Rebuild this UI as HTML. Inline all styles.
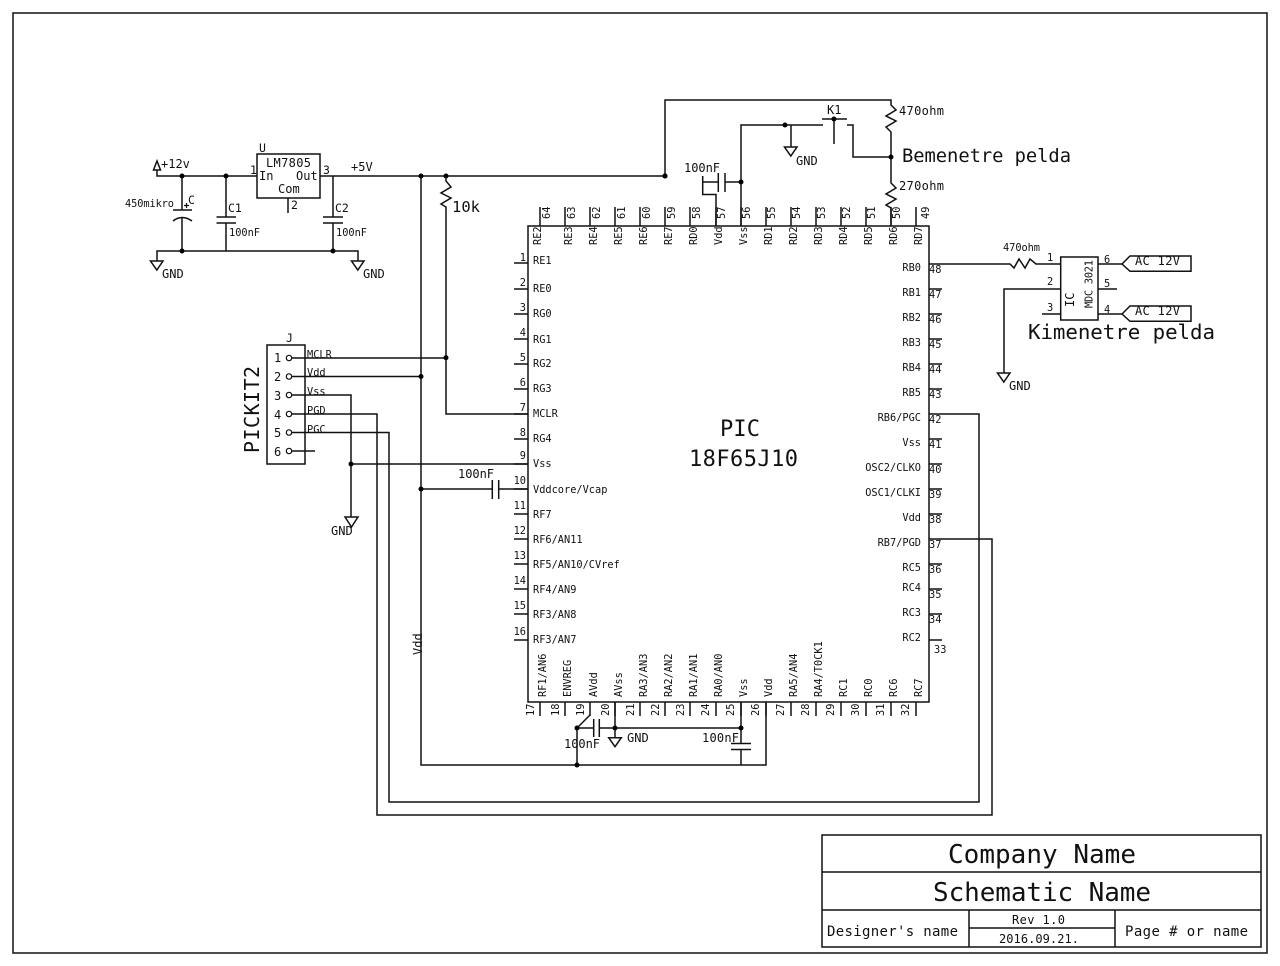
<!DOCTYPE html>
<html><head><meta charset="utf-8"><title>Schematic</title>
<style>
html,body{margin:0;padding:0;background:#fff}
svg{display:block}
text{font-family:"DejaVu Sans Mono","Liberation Mono",monospace;fill:#111;stroke:none;font-size:10.3px}
.a{font-size:12px}
.b{font-size:11.5px}
.end{text-anchor:end}
path,rect,polygon,circle{fill:none;stroke:#111;stroke-width:1.5}
.t{stroke-width:1.2}
.d{fill:#000;stroke:none}
</style></head><body>
<svg xmlns="http://www.w3.org/2000/svg" width="1280" height="966" viewBox="0 0 1280 966">
<rect x="13" y="13" width="1254" height="940"/>
<!-- title block -->
<path d="M822 835H1261V947H822ZM822 872H1261M822 910H1261M969 910V947M1115 910V947M969 928H1115"/>
<text x="948" y="863" style="font-size:26px" textLength="188">Company Name</text>
<text x="933" y="901" style="font-size:26px" textLength="218">Schematic Name</text>
<text x="827" y="936" style="font-size:14px" textLength="131">Designer's name</text>
<text x="1125" y="936" style="font-size:14px" textLength="123">Page # or name</text>
<text x="1012" y="924" class="a" textLength="53">Rev 1.0</text>
<text x="999" y="943" class="a" textLength="80">2016.09.21.</text>
<!-- IC -->
<rect x="528" y="226" width="401" height="476"/>
<path d="M540 207V226M565 207V226M590 207V226M615 207V226M640 207V226M665 207V226M690 207V226M716 207V226M741 207V226M766 207V226M791 207V226M816 207V226M841 207V226M866 207V226M891 207V226M916 207V226"/>
<path d="M514 263H528M514 289H528M514 314H528M514 339H528M514 364H528M514 389H528M514 414H528M514 439H528M514 464H528M514 489H528M514 514H528M514 539H528M514 564H528M514 589H528M514 614H528M514 640H528"/>
<path d="M929 264H942M929 289H942M929 314H942M929 339H942M929 364H942M929 389H942M929 414H942M929 439H942M929 464H942M929 489H942M929 514H942M929 539H942M929 564H942M929 589H942M929 614H942M929 640H942"/>
<path d="M540 702V716M565 702V716M590 702V716M615 702V716M640 702V716M665 702V716M690 702V716M716 702V716M741 702V716M766 702V716M791 702V716M816 702V716M841 702V716M866 702V716M891 702V716M916 702V716"/>
<text x="720" y="436" style="font-size:22px" textLength="40">PIC</text>
<text x="689" y="466" style="font-size:22px" textLength="109">18F65J10</text>
<!-- top labels -->
<text transform="translate(541 245) rotate(-90)">RE2</text>
<text transform="translate(572 245) rotate(-90)">RE3</text>
<text transform="translate(597 245) rotate(-90)">RE4</text>
<text transform="translate(622 245) rotate(-90)">RE5</text>
<text transform="translate(647 245) rotate(-90)">RE6</text>
<text transform="translate(672 245) rotate(-90)">RE7</text>
<text transform="translate(697 245) rotate(-90)">RD0</text>
<text transform="translate(722 245) rotate(-90)">Vdd</text>
<text transform="translate(747 245) rotate(-90)">Vss</text>
<text transform="translate(772 245) rotate(-90)">RD1</text>
<text transform="translate(797 245) rotate(-90)">RD2</text>
<text transform="translate(822 245) rotate(-90)">RD3</text>
<text transform="translate(847 245) rotate(-90)">RD4</text>
<text transform="translate(872 245) rotate(-90)">RD5</text>
<text transform="translate(897 245) rotate(-90)">RD6</text>
<text transform="translate(922 245) rotate(-90)">RD7</text>
<!-- top numbers -->
<text transform="translate(550 219) rotate(-90)">64</text>
<text transform="translate(575 219) rotate(-90)">63</text>
<text transform="translate(600 219) rotate(-90)">62</text>
<text transform="translate(625 219) rotate(-90)">61</text>
<text transform="translate(650 219) rotate(-90)">60</text>
<text transform="translate(675 219) rotate(-90)">59</text>
<text transform="translate(700 219) rotate(-90)">58</text>
<text transform="translate(725 219) rotate(-90)">57</text>
<text transform="translate(750 219) rotate(-90)">56</text>
<text transform="translate(775 219) rotate(-90)">55</text>
<text transform="translate(800 219) rotate(-90)">54</text>
<text transform="translate(825 219) rotate(-90)">53</text>
<text transform="translate(850 219) rotate(-90)">52</text>
<text transform="translate(875 219) rotate(-90)">51</text>
<text transform="translate(900 219) rotate(-90)">50</text>
<text transform="translate(929 219) rotate(-90)">49</text>
<!-- left labels -->
<text x="533" y="264">RE1</text>
<text x="533" y="292">RE0</text>
<text x="533" y="317">RG0</text>
<text x="533" y="343">RG1</text>
<text x="533" y="367">RG2</text>
<text x="533" y="392">RG3</text>
<text x="533" y="417">MCLR</text>
<text x="533" y="442">RG4</text>
<text x="533" y="467">Vss</text>
<text x="533" y="493">Vddcore/Vcap</text>
<text x="533" y="518">RF7</text>
<text x="533" y="543">RF6/AN11</text>
<text x="533" y="568">RF5/AN10/CVref</text>
<text x="533" y="593">RF4/AN9</text>
<text x="533" y="618">RF3/AN8</text>
<text x="533" y="643">RF3/AN7</text>
<!-- left numbers -->
<text x="526" y="261" class="end">1</text>
<text x="526" y="286" class="end">2</text>
<text x="526" y="311" class="end">3</text>
<text x="526" y="336" class="end">4</text>
<text x="526" y="361" class="end">5</text>
<text x="526" y="386" class="end">6</text>
<text x="526" y="411" class="end">7</text>
<text x="526" y="436" class="end">8</text>
<text x="526" y="459" class="end">9</text>
<text x="526" y="484" class="end">10</text>
<text x="526" y="509" class="end">11</text>
<text x="526" y="534" class="end">12</text>
<text x="526" y="559" class="end">13</text>
<text x="526" y="584" class="end">14</text>
<text x="526" y="609" class="end">15</text>
<text x="526" y="635" class="end">16</text>
<!-- right labels -->
<text x="921" y="271" class="end">RB0</text>
<text x="921" y="296" class="end">RB1</text>
<text x="921" y="321" class="end">RB2</text>
<text x="921" y="346" class="end">RB3</text>
<text x="921" y="371" class="end">RB4</text>
<text x="921" y="396" class="end">RB5</text>
<text x="921" y="421" class="end">RB6/PGC</text>
<text x="921" y="446" class="end">Vss</text>
<text x="921" y="471" class="end">OSC2/CLKO</text>
<text x="921" y="496" class="end">OSC1/CLKI</text>
<text x="921" y="521" class="end">Vdd</text>
<text x="921" y="546" class="end">RB7/PGD</text>
<text x="921" y="571" class="end">RC5</text>
<text x="921" y="591" class="end">RC4</text>
<text x="921" y="616" class="end">RC3</text>
<text x="921" y="641" class="end">RC2</text>
<!-- right numbers -->
<text x="929" y="273">48</text>
<text x="929" y="298">47</text>
<text x="929" y="323">46</text>
<text x="929" y="348">45</text>
<text x="929" y="373">44</text>
<text x="929" y="398">43</text>
<text x="929" y="423">42</text>
<text x="929" y="448">41</text>
<text x="929" y="473">40</text>
<text x="929" y="498">39</text>
<text x="929" y="523">38</text>
<text x="929" y="548">37</text>
<text x="929" y="573">36</text>
<text x="929" y="598">35</text>
<text x="929" y="623">34</text>
<text x="934" y="653">33</text>
<!-- bottom labels -->
<text transform="translate(546 697) rotate(-90)">RF1/AN6</text>
<text transform="translate(571 697) rotate(-90)">ENVREG</text>
<text transform="translate(597 697) rotate(-90)">AVdd</text>
<text transform="translate(622 697) rotate(-90)">AVss</text>
<text transform="translate(647 697) rotate(-90)">RA3/AN3</text>
<text transform="translate(672 697) rotate(-90)">RA2/AN2</text>
<text transform="translate(697 697) rotate(-90)">RA1/AN1</text>
<text transform="translate(722 697) rotate(-90)">RA0/AN0</text>
<text transform="translate(747 697) rotate(-90)">Vss</text>
<text transform="translate(772 697) rotate(-90)">Vdd</text>
<text transform="translate(797 697) rotate(-90)">RA5/AN4</text>
<text transform="translate(822 697) rotate(-90)">RA4/T0CK1</text>
<text transform="translate(847 697) rotate(-90)">RC1</text>
<text transform="translate(872 697) rotate(-90)">RC0</text>
<text transform="translate(897 697) rotate(-90)">RC6</text>
<text transform="translate(922 697) rotate(-90)">RC7</text>
<!-- bottom numbers -->
<text transform="translate(534 716) rotate(-90)">17</text>
<text transform="translate(559 716) rotate(-90)">18</text>
<text transform="translate(584 716) rotate(-90)">19</text>
<text transform="translate(609 716) rotate(-90)">20</text>
<text transform="translate(634 716) rotate(-90)">21</text>
<text transform="translate(659 716) rotate(-90)">22</text>
<text transform="translate(684 716) rotate(-90)">23</text>
<text transform="translate(709 716) rotate(-90)">24</text>
<text transform="translate(734 716) rotate(-90)">25</text>
<text transform="translate(759 716) rotate(-90)">26</text>
<text transform="translate(784 716) rotate(-90)">27</text>
<text transform="translate(809 716) rotate(-90)">28</text>
<text transform="translate(834 716) rotate(-90)">29</text>
<text transform="translate(859 716) rotate(-90)">30</text>
<text transform="translate(884 716) rotate(-90)">31</text>
<text transform="translate(909 716) rotate(-90)">32</text>
<!-- power section -->
<path d="M157 170V176H257M320 176H665M157 170L153.5 170L157 161L160.5 170Z"/>
<rect x="257" y="154" width="63" height="44"/>
<path d="M288 198V213"/>
<path d="M182 176V210M173 210H192M182 218V251M173 221Q182 214 192 221M157 261V251H358V261"/>
<path class="t" d="M184 205.500H189M186.500 203V208"/>
<path d="M226 176V217M216.500 217H236M216.500 223H236M226 223V251"/>
<path d="M333 176V217M323 217H343M323 223H343M333 223V251"/>
<polygon points="150.500,261 163,261 156.800,270"/>
<polygon points="351.500,261 364,261 357.800,270"/>
<circle class="d" cx="182" cy="176" r="2.500"/><circle class="d" cx="226" cy="176" r="2.500"/><circle class="d" cx="182" cy="251" r="2.500"/><circle class="d" cx="333" cy="251" r="2.500"/><circle class="d" cx="421" cy="176" r="2.500"/><circle class="d" cx="446" cy="176" r="2.500"/><circle class="d" cx="665" cy="176" r="2.500"/>
<text x="161" y="168" class="a">+12v</text>
<text x="125" y="207" textLength="49">450mikro</text>
<text x="188" y="204" class="b">C</text>
<text x="228" y="212" class="b">C1</text>
<text x="335" y="212" class="b">C2</text>
<text x="229" y="236">100nF</text>
<text x="336" y="236">100nF</text>
<text x="266" y="167" class="a" textLength="45">LM7805</text>
<text x="259" y="180" class="a">In</text>
<text x="296" y="180" class="a">Out</text>
<text x="278" y="193" class="a">Com</text>
<text x="250" y="174" class="b">1</text>
<text x="323" y="174" class="b">3</text>
<text x="291" y="209" class="b">2</text>
<text x="259" y="152" class="b">U</text>
<text x="351" y="171" class="a">+5V</text>
<text x="162" y="278" class="a">GND</text>
<text x="363" y="278" class="a">GND</text>
<!-- 10k -->
<path d="M446 176V181L451 187L441 193L451 198L441 204L446 207V414H528M421 176V765H766V702"/>
<text x="452" y="212" style="font-size:15.5px">10k</text>
<text transform="translate(422 655) rotate(-90)" class="a">Vdd</text>
<!-- upper right -->
<path d="M665 176V100H891V105L896 110L886 116L896 121L886 127L891 132V183L896 188L886 194L896 199L886 205L891 208V226"/>
<path d="M702.700 176V194.500H716V226M702.700 182H718.300M718.300 173V192M725 173V192M725 182H741"/>
<path d="M741 226V125H823M791 125V147M822 119H847M834 119V144M847 125H853V157H891"/>
<polygon points="784.500,147 797,147 790.800,156"/>
<circle class="d" cx="665" cy="176" r="2.500"/><circle class="d" cx="741" cy="182" r="2.500"/><circle class="d" cx="785" cy="125" r="2.500"/><circle class="d" cx="834" cy="119" r="2.500"/><circle class="d" cx="891" cy="157" r="2.500"/>
<text x="899" y="115" class="a" textLength="45">470ohm</text>
<text x="899" y="190" class="a" textLength="45">270ohm</text>
<text x="684" y="172" class="a" textLength="36">100nF</text>
<text x="796" y="165" class="a">GND</text>
<text x="827" y="114" class="a">K1</text>
<text x="902" y="162" style="font-size:18.8px" textLength="169">Bemenetre pelda</text>
<!-- right opto -->
<path d="M942 264H1010L1014 268L1019 259L1025 268L1030 259L1036 264H1060.700"/>
<rect x="1060.700" y="257" width="37.300" height="63"/>
<path d="M1060.700 289H1004V373M1042 314H1060.700M1098 264H1122M1098 289H1117M1098 314H1122"/>
<polygon points="997.500,373 1010,373 1003.800,382"/>
<polygon points="1122,264 1130,256 1191,256 1191,271.300 1130,271.300"/>
<polygon points="1122,314 1130,306 1191,306 1191,321.300 1130,321.300"/>
<text x="1003" y="251" textLength="37">470ohm</text>
<text x="1047" y="261">1</text><text x="1047" y="285">2</text><text x="1047" y="311">3</text>
<text x="1104" y="263">6</text><text x="1104" y="287">5</text><text x="1104" y="313">4</text>
<text transform="translate(1074 307) rotate(-90)" class="a">IC</text>
<text transform="translate(1092.500 308) rotate(-90)" textLength="48">MDC 3021</text>
<text x="1135" y="265" class="a" textLength="45">AC 12V</text>
<text x="1135" y="315" class="a" textLength="45">AC 12V</text>
<text x="1028" y="339" style="font-size:20.8px" textLength="187">Kimenetre pelda</text>
<text x="1009" y="390" class="a">GND</text>
<!-- pickit -->
<rect x="267" y="345" width="38" height="119"/>
<circle cx="289" cy="358" r="2.700" class="t"/><circle cx="289" cy="376.500" r="2.700" class="t"/><circle cx="289" cy="395" r="2.700" class="t"/><circle cx="289" cy="414" r="2.700" class="t"/><circle cx="289" cy="432.500" r="2.700" class="t"/><circle cx="289" cy="451" r="2.700" class="t"/>
<path d="M292 358H446M292 376.500H421M292 395H351V517M292 414H377V815H992V539H942M292 432.500H389V802H979V414H942M292 451H315M351 464H528"/>
<path d="M421 489H492.300M492.300 480V499M498.700 480V499M498.700 489H528"/>
<polygon points="345,517 358,517 351.500,527"/>
<circle class="d" cx="446" cy="357.700" r="2.500"/><circle class="d" cx="421" cy="376.500" r="2.500"/><circle class="d" cx="351" cy="464" r="2.500"/><circle class="d" cx="421" cy="489" r="2.500"/>
<text x="286" y="342" class="b">J</text>
<text x="274" y="362" class="a">1</text><text x="274" y="381" class="a">2</text><text x="274" y="400" class="a">3</text><text x="274" y="419" class="a">4</text><text x="274" y="437" class="a">5</text><text x="274" y="456" class="a">6</text>
<text x="307" y="358">MCLR</text><text x="307" y="376">Vdd</text><text x="307" y="395">Vss</text><text x="307" y="414">PGD</text><text x="307" y="433">PGC</text>
<text transform="translate(259 453) rotate(-90)" style="font-size:20px" textLength="87">PICKIT2</text>
<text x="331" y="535" class="a">GND</text>
<text x="458" y="478" class="a" textLength="36">100nF</text>
<!-- bottom caps -->
<path d="M590 715L577 728V765M577 728H594M600 728H741M593.700 719V737M599.300 719V737M615 702V737M741 702V743M731 743.500H751M731 749.500H751M741 749.500V765"/>
<polygon points="608.700,737.700 621.300,737.700 615,746.700"/>
<circle class="d" cx="577" cy="728" r="2.500"/><circle class="d" cx="577" cy="765" r="2.500"/><circle class="d" cx="615" cy="728" r="2.500"/><circle class="d" cx="741" cy="728" r="2.500"/>
<text x="564" y="748" class="a" textLength="36">100nF</text>
<text x="627" y="742" class="a">GND</text>
<text x="702" y="742" class="a" textLength="37">100nF</text>
</svg>
</body></html>
